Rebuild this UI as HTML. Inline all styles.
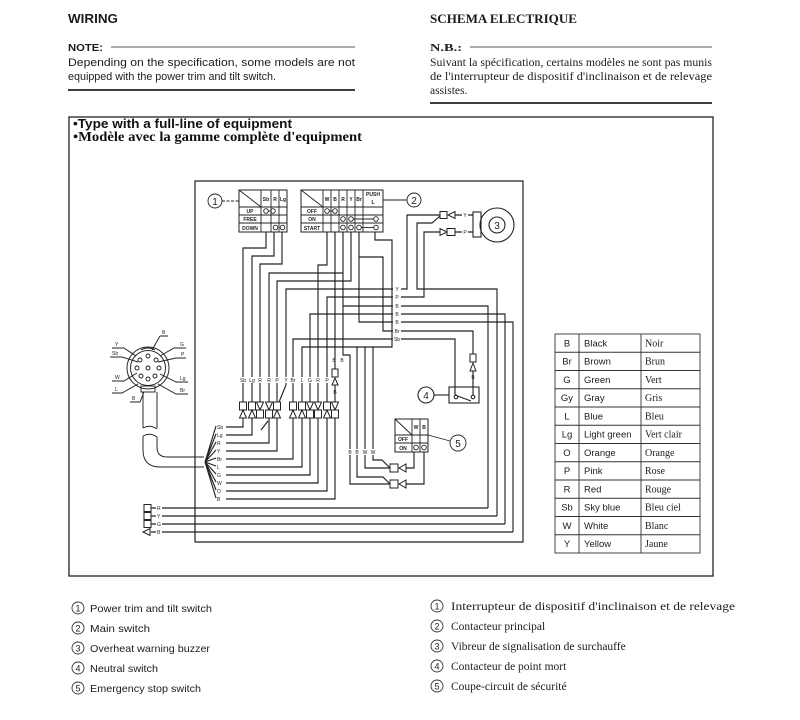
<!DOCTYPE html>
<html><head><meta charset="utf-8"><style>
html,body{margin:0;padding:0;background:#fff}
svg{display:block}
.s{font-family:"Liberation Sans",sans-serif}
.r{font-family:"Liberation Serif",serif}
</style></head><body>
<svg width="800" height="720" viewBox="0 0 800 720" xmlns="http://www.w3.org/2000/svg">
<rect width="800" height="720" fill="#fff"/>
<g fill="#1c1c1c">
<text class="s" font-family="Liberation Sans, sans-serif" x="68" y="23" font-size="12.5" font-weight="bold" textLength="50" lengthAdjust="spacingAndGlyphs">WIRING</text>
<text class="r" font-family="Liberation Serif, serif" x="430" y="23" font-size="13" font-weight="bold" textLength="147" lengthAdjust="spacingAndGlyphs">SCHEMA ELECTRIQUE</text>
<text class="s" font-family="Liberation Sans, sans-serif" x="68" y="51" font-size="10.5" font-weight="bold" textLength="35" lengthAdjust="spacingAndGlyphs">NOTE:</text>
<text class="s" font-family="Liberation Sans, sans-serif" x="68" y="66" font-size="11" textLength="287" lengthAdjust="spacingAndGlyphs">Depending on the specification, some models are not</text>
<text class="s" font-family="Liberation Sans, sans-serif" x="68" y="80" font-size="11" textLength="208" lengthAdjust="spacingAndGlyphs">equipped with the power trim and tilt switch.</text>
<text class="r" font-family="Liberation Serif, serif" x="430" y="51" font-size="10.5" font-weight="bold" textLength="32" lengthAdjust="spacingAndGlyphs">N.B.:</text>
<text class="r" font-family="Liberation Serif, serif" x="430" y="66" font-size="11.5" textLength="282" lengthAdjust="spacingAndGlyphs">Suivant la spécification, certains modèles ne sont pas munis</text>
<text class="r" font-family="Liberation Serif, serif" x="430" y="80" font-size="11.5" textLength="282" lengthAdjust="spacingAndGlyphs">de l'interrupteur de dispositif d'inclinaison et de relevage</text>
<text class="r" font-family="Liberation Serif, serif" x="430" y="94" font-size="11.5">assistes.</text>
</g>
<g stroke="#222" fill="none">
<line x1="111" y1="47" x2="355" y2="47" stroke-width="0.8"/>
<line x1="68" y1="90" x2="355" y2="90" stroke-width="1.8"/>
<line x1="470" y1="47" x2="712" y2="47" stroke-width="0.8"/>
<line x1="430" y1="103" x2="712" y2="103" stroke-width="1.8"/>
<rect x="69" y="117" width="644" height="459" stroke-width="1.3"/>
</g>
<g fill="#111">
<text class="s" font-family="Liberation Sans, sans-serif" x="73" y="128" font-size="12.5" font-weight="bold" textLength="219" lengthAdjust="spacingAndGlyphs">•Type with a full-line of equipment</text>
<text class="r" font-family="Liberation Serif, serif" x="73" y="141" font-size="13.5" font-weight="bold" textLength="289" lengthAdjust="spacingAndGlyphs">•Modèle avec la gamme complète d'equipment</text>
</g>

<!-- colour table -->
<g stroke="#333" stroke-width="0.9" fill="none">
<rect x="555" y="334" width="145" height="219"/>
<line x1="579" y1="334" x2="579" y2="553"/>
<line x1="641" y1="334" x2="641" y2="553"/>
<line x1="555" y1="352.25" x2="700" y2="352.25"/>
<line x1="555" y1="370.5" x2="700" y2="370.5"/>
<line x1="555" y1="388.75" x2="700" y2="388.75"/>
<line x1="555" y1="407" x2="700" y2="407"/>
<line x1="555" y1="425.25" x2="700" y2="425.25"/>
<line x1="555" y1="443.5" x2="700" y2="443.5"/>
<line x1="555" y1="461.75" x2="700" y2="461.75"/>
<line x1="555" y1="480" x2="700" y2="480"/>
<line x1="555" y1="498.25" x2="700" y2="498.25"/>
<line x1="555" y1="516.5" x2="700" y2="516.5"/>
<line x1="555" y1="534.75" x2="700" y2="534.75"/>
</g>
<g fill="#1c1c1c" font-size="9.5">
<g class="s" font-family="Liberation Sans, sans-serif" text-anchor="middle">
<text x="567" y="346.5">B</text><text x="567" y="364.7">Br</text><text x="567" y="383">G</text><text x="567" y="401.2">Gy</text><text x="567" y="419.5">L</text><text x="567" y="437.7">Lg</text><text x="567" y="456">O</text><text x="567" y="474.2">P</text><text x="567" y="492.5">R</text><text x="567" y="510.7">Sb</text><text x="567" y="529">W</text><text x="567" y="547.2">Y</text>
</g>
<g class="s" font-family="Liberation Sans, sans-serif">
<text x="584" y="346.5">Black</text><text x="584" y="364.7">Brown</text><text x="584" y="383">Green</text><text x="584" y="401.2">Gray</text><text x="584" y="419.5">Blue</text><text x="584" y="437.7">Light green</text><text x="584" y="456">Orange</text><text x="584" y="474.2">Pink</text><text x="584" y="492.5">Red</text><text x="584" y="510.7">Sky blue</text><text x="584" y="529">White</text><text x="584" y="547.2">Yellow</text>
</g>
<g class="r" font-family="Liberation Serif, serif" font-size="10">
<text x="645" y="346.5">Noir</text><text x="645" y="364.7">Brun</text><text x="645" y="383">Vert</text><text x="645" y="401.2">Gris</text><text x="645" y="419.5">Bleu</text><text x="645" y="437.7">Vert clair</text><text x="645" y="456">Orange</text><text x="645" y="474.2">Rose</text><text x="645" y="492.5">Rouge</text><text x="645" y="510.7">Bleu ciel</text><text x="645" y="529">Blanc</text><text x="645" y="547.2">Jaune</text>
</g>
</g>

<!-- wiring -->
<g fill="none" stroke="#222" stroke-width="1.15">
<path d="M195 181 H523 V542 H195 Z" stroke-width="1.2"/>
<path d="M266 232 V248 H243 V402"/>
<path d="M274 232 V256 H252 V402"/>
<path d="M282 232 V264 H260 V402"/>
<path d="M343 232 V355 H350 V484 H390"/>
<path d="M343 273 H269 V402"/>
<path d="M343 306 H488 V508"/>
<path d="M351 232 V281 H277 V402"/>
<path d="M327 232 V265 H318 V402"/>
<path d="M335 232 V369"/>
<path d="M335 385 V402"/>
<path d="M359 232 V322 H513 V532"/>
<path d="M359 257 H383 V331 H473 V354"/>
<path d="M473 371 V387"/>
<path d="M375 232 V240 H392 V347 H302 V402"/>
<path d="M286 385 V289 H407 V215 H440"/>
<path d="M286 385 L279 402"/>
<path d="M497 516 V289 H417 V223 H432 L440 216"/>
<path d="M327 402 V297 H424 V232 H440"/>
<path d="M310 402 V314 H505 V524"/>
<path d="M293 402 V339 H455 V396"/>
<path d="M357 347 V477 H383 L390 484"/>
<path d="M365 347 V468 H390"/>
<path d="M373 347 V460 H382 L390 468"/>
<path d="M406 468 H414 V452"/>
<path d="M406 484 H424 V452"/>
<path d="M455 215 H473"/>
<path d="M455 232 H473"/>
<path d="M226 427 H243 V418"/>
<path d="M226 435 H252 V418"/>
<path d="M226 443 H269 V418"/>
<path d="M226 451 H277 V418"/>
<path d="M226 459 H293 V418"/>
<path d="M226 467 H302 V418"/>
<path d="M226 475 H310 V418"/>
<path d="M226 483 H318 V418"/>
<path d="M226 491 H327 V418"/>
<path d="M226 499 H335 V418"/>
<path d="M261 430 L268 421"/>
<path d="M205 462 L216 426 M205 462 L216 434 M205 462 L216 442 M205 462 L216 450 M205 462 L216 458 M205 462 L216 466 M205 462 L216 474 M205 462 L216 482 M205 462 L216 490 M205 462 L216 498"/>
<path d="M151 508 H156 M162 508 H488"/>
<path d="M151 516 H156 M162 516 H497"/>
<path d="M151 524 H156 M162 524 H505"/>
<path d="M151 532 H156 M162 532 H513"/>
</g>

<g fill="#fff" stroke="#222" stroke-width="1">
<rect x="144" y="504.5" width="7" height="7"/>
<rect x="144" y="512.5" width="7" height="7"/>
<rect x="144" y="520.5" width="7" height="7"/>
<polygon points="143,532 150,528.5 150,535.5"/>
</g>

<g fill="#fff" stroke="#222" stroke-width="1">
<rect x="239.5" y="402" width="7" height="8"/><polygon points="239.5,418 246.5,418 243,410"/>
<rect x="248.5" y="402" width="7" height="8"/><polygon points="248.5,418 255.5,418 252,410"/>
<polygon points="256.5,402 263.5,402 260,410"/><rect x="256.5" y="410" width="7" height="8"/>
<polygon points="265.5,402 272.5,402 269,410"/><rect x="265.5" y="410" width="7" height="8"/>
<rect x="273.5" y="402" width="7" height="8"/><polygon points="273.5,418 280.5,418 277,410"/>
<rect x="289.5" y="402" width="7" height="8"/><polygon points="289.5,418 296.5,418 293,410"/>
<rect x="298.5" y="402" width="7" height="8"/><polygon points="298.5,418 305.5,418 302,410"/>
<polygon points="306.5,402 313.5,402 310,410"/><rect x="306.5" y="410" width="7" height="8"/>
<polygon points="314.5,402 321.5,402 318,410"/><rect x="314.5" y="410" width="7" height="8"/>
<rect x="323.5" y="402" width="7" height="8"/><polygon points="323.5,418 330.5,418 327,410"/>
<polygon points="331.5,402 338.5,402 335,410"/><rect x="331.5" y="410" width="7" height="8"/>
<rect x="332" y="369" width="6" height="8"/><polygon points="332,385 338,385 335,378"/>
<rect x="470" y="354" width="6" height="8"/><polygon points="470,371 476,371 473,363"/>
<rect x="390" y="464" width="8" height="8"/><polygon points="399,468 406,464 406,472"/>
<rect x="390" y="480" width="8" height="8"/><polygon points="399,484 406,480 406,488"/>
<rect x="440" y="211.5" width="7" height="7"/><polygon points="448,215 455,211.5 455,218.5"/>
<polygon points="440,228.5 440,235.5 447,232"/><rect x="447" y="228.5" width="8" height="7"/>
</g>

<g class="s" font-family="Liberation Sans, sans-serif" font-size="5" fill="#222">
<g fill="#fff"><rect x="393" y="286" width="8" height="6"/><rect x="393" y="294" width="8" height="6"/><rect x="393" y="303" width="8" height="6"/><rect x="393" y="311" width="8" height="6"/><rect x="393" y="319" width="8" height="6"/><rect x="393" y="328" width="8" height="6"/><rect x="393" y="336" width="8" height="6"/>
<rect x="239" y="377" width="8" height="6"/><rect x="248" y="377" width="8" height="6"/><rect x="256" y="377" width="8" height="6"/><rect x="265" y="377" width="8" height="6"/><rect x="273" y="377" width="8" height="6"/><rect x="282" y="377" width="8" height="6"/><rect x="289" y="377" width="8" height="6"/><rect x="298" y="377" width="8" height="6"/><rect x="306" y="377" width="8" height="6"/><rect x="314" y="377" width="8" height="6"/><rect x="323" y="377" width="8" height="6"/>
<rect x="346" y="449" width="8" height="6"/><rect x="353" y="449" width="8" height="6"/><rect x="361" y="449" width="8" height="6"/><rect x="369" y="449" width="8" height="6"/>
<rect x="462" y="212" width="6" height="6"/><rect x="462" y="229" width="6" height="6"/></g>
<g text-anchor="middle">
<text x="397" y="291">Y</text><text x="397" y="299">P</text><text x="397" y="308">B</text><text x="397" y="316">B</text><text x="397" y="324">B</text><text x="397" y="333">Br</text><text x="397" y="341">Sb</text>
<text x="243" y="382">Sb</text><text x="252" y="382">Lg</text><text x="260" y="382">R</text><text x="269" y="382">R</text><text x="277" y="382">P</text><text x="286" y="382">Y</text><text x="293" y="382">Br</text><text x="302" y="382">L</text><text x="310" y="382">G</text><text x="318" y="382">R</text><text x="327" y="382">P</text>
<text x="350" y="454">B</text><text x="357" y="454">B</text><text x="365" y="454">W</text><text x="373" y="454">W</text>
<text x="465" y="217">Y</text><text x="465" y="234">P</text>
<text x="334" y="362">B</text><text x="342" y="362">B</text>
<text x="335" y="394">B</text><text x="473" y="379">B</text>
</g>
<text x="217" y="429">Sb</text><text x="217" y="437">Lg</text><text x="217" y="445">R</text><text x="217" y="453">Y</text><text x="217" y="461">Br</text><text x="217" y="469">L</text><text x="217" y="477">G</text><text x="217" y="485">W</text><text x="217" y="493">O</text><text x="217" y="501">B</text>
<text x="157" y="510">R</text><text x="157" y="518">Y</text><text x="157" y="526">G</text><text x="157" y="534">B</text>
</g>

<!-- switch 1 -->
<g fill="#fff" stroke="#222" stroke-width="1"><rect x="239" y="190" width="48" height="42"/></g>
<g fill="none" stroke="#222" stroke-width="0.9">
<line x1="239" y1="207" x2="287" y2="207"/><line x1="239" y1="215" x2="287" y2="215"/><line x1="239" y1="223" x2="287" y2="223"/>
<line x1="261" y1="190" x2="261" y2="232"/><line x1="271" y1="190" x2="271" y2="232"/><line x1="279" y1="190" x2="279" y2="232"/>
<line x1="239" y1="190" x2="261" y2="207"/>
<circle cx="266" cy="211" r="2.3"/><circle cx="273" cy="211" r="2.3"/><line x1="268.3" y1="211" x2="270.7" y2="211"/>
<circle cx="275.5" cy="227.5" r="2.3"/><circle cx="282.5" cy="227.5" r="2.3"/>
<circle cx="215" cy="201" r="7"/><line x1="222" y1="201" x2="239" y2="201" stroke-dasharray="3,1.5"/>
</g>
<g class="s" font-family="Liberation Sans, sans-serif" font-size="5" font-weight="bold" fill="#222" text-anchor="middle">
<text x="266" y="201">Sb</text><text x="275" y="201">R</text><text x="283" y="201">Lg</text>
<text x="250" y="213">UP</text><text x="250" y="221">FREE</text><text x="250" y="230">DOWN</text>
</g>
<text class="s" font-family="Liberation Sans, sans-serif" x="215" y="205" font-size="10" text-anchor="middle" fill="#222">1</text>

<!-- switch 2 -->
<g fill="#fff" stroke="#222" stroke-width="1"><rect x="301" y="190" width="82" height="42"/></g>
<g fill="none" stroke="#222" stroke-width="0.9">
<line x1="301" y1="207" x2="383" y2="207"/><line x1="301" y1="215" x2="383" y2="215"/><line x1="301" y1="223" x2="383" y2="223"/>
<line x1="323" y1="190" x2="323" y2="232"/><line x1="331" y1="190" x2="331" y2="232"/><line x1="339" y1="190" x2="339" y2="232"/><line x1="347" y1="190" x2="347" y2="232"/><line x1="355" y1="190" x2="355" y2="232"/><line x1="363" y1="190" x2="363" y2="232"/>
<line x1="301" y1="190" x2="323" y2="207"/>
<circle cx="327" cy="211" r="2.3"/><circle cx="335" cy="211" r="2.3"/><line x1="329.3" y1="211" x2="332.7" y2="211"/>
<circle cx="343" cy="219" r="2.3"/><circle cx="351" cy="219" r="2.3"/><line x1="353.3" y1="219" x2="373.7" y2="219"/><circle cx="376" cy="219" r="2.3"/>
<circle cx="343" cy="227.5" r="2.3"/><circle cx="351" cy="227.5" r="2.3"/><circle cx="359" cy="227.5" r="2.3"/><line x1="361.3" y1="227.5" x2="373.7" y2="227.5"/><circle cx="376" cy="227.5" r="2.3"/>
<circle cx="414" cy="200" r="7"/><line x1="383" y1="200" x2="407" y2="200"/>
</g>
<g class="s" font-family="Liberation Sans, sans-serif" font-size="5" font-weight="bold" fill="#222" text-anchor="middle">
<text x="327" y="201">W</text><text x="335" y="201">B</text><text x="343" y="201">R</text><text x="351" y="201">Y</text><text x="359" y="201">Br</text>
<text x="373" y="196">PUSH</text><text x="373" y="204">L</text>
<text x="312" y="213">OFF</text><text x="312" y="221">ON</text><text x="312" y="230">START</text>
</g>
<text class="s" font-family="Liberation Sans, sans-serif" x="414" y="204" font-size="10" text-anchor="middle" fill="#222">2</text>

<!-- buzzer -->
<g fill="none" stroke="#222" stroke-width="1.1">
<rect x="473" y="212" width="8" height="25" fill="#fff"/>
<circle cx="497" cy="225" r="17"/>
<circle cx="497" cy="225" r="8"/>
</g>
<text class="s" font-family="Liberation Sans, sans-serif" x="497" y="229" font-size="10" text-anchor="middle" fill="#222">3</text>

<!-- neutral switch 4 -->
<g fill="none" stroke="#222" stroke-width="1.1">
<rect x="449" y="387" width="30" height="16"/>
<circle cx="456" cy="397" r="1.8"/><circle cx="473" cy="397" r="1.8"/>
<line x1="457.5" y1="396" x2="471" y2="401"/>
<line x1="473" y1="387" x2="473" y2="395"/>
<circle cx="426" cy="395" r="8"/><line x1="434" y1="395" x2="449" y2="395"/>
</g>
<text class="s" font-family="Liberation Sans, sans-serif" x="426" y="399" font-size="10" text-anchor="middle" fill="#222">4</text>

<!-- emergency switch 5 -->
<g fill="#fff" stroke="#222" stroke-width="1"><rect x="395" y="419" width="33" height="33"/></g>
<g fill="none" stroke="#222" stroke-width="0.9">
<line x1="395" y1="435" x2="428" y2="435"/><line x1="395" y1="443" x2="428" y2="443"/>
<line x1="412" y1="419" x2="412" y2="452"/><line x1="420" y1="419" x2="420" y2="452"/>
<line x1="395" y1="419" x2="412" y2="435"/>
<circle cx="416" cy="447.5" r="2.3"/><circle cx="424" cy="447.5" r="2.3"/>
<line x1="428" y1="435" x2="450" y2="441"/>
<circle cx="458" cy="443" r="8"/>
</g>
<g class="s" font-family="Liberation Sans, sans-serif" font-size="5" font-weight="bold" fill="#222" text-anchor="middle">
<text x="416" y="429">W</text><text x="424" y="429">B</text><text x="403" y="441">OFF</text><text x="403" y="450">ON</text>
</g>
<text class="s" font-family="Liberation Sans, sans-serif" x="458" y="447" font-size="10" text-anchor="middle" fill="#222">5</text>

<!-- engine connector -->
<g fill="none" stroke="#222" stroke-width="0.95">
<circle cx="148" cy="368" r="21"/>
<circle cx="148" cy="368" r="17.5"/>
<path d="M141 350 Q148 346 155 350"/>
<circle cx="148" cy="356" r="2"/><circle cx="140" cy="360" r="2"/><circle cx="156" cy="360" r="2"/><circle cx="137" cy="368" r="2"/><circle cx="159" cy="368" r="2"/><circle cx="141" cy="376" r="2"/><circle cx="155" cy="376" r="2"/><circle cx="148" cy="368" r="2"/><circle cx="148" cy="379" r="2"/>
<rect x="141" y="386" width="14" height="6"/>
<path d="M143 392 V428 M157 392 V428"/>
<path d="M143 428 Q150 424 157 429"/>
<path d="M143 436 Q150 432 157 437"/>
<path d="M143 436 V450 Q143 467 160 467 H204"/>
<path d="M157 437 V447 Q157 457 167 457 H204"/>
<path d="M112 348 H124 L136 356"/>
<path d="M110 357 H122 L138 362"/>
<path d="M112 381 H124 L137 373"/>
<path d="M112 393 H122 L138 384"/>
<path d="M186 348 H174 L160 356"/>
<path d="M186 358 H176 L158 362"/>
<path d="M188 382 H176 L160 374"/>
<path d="M188 394 H176 L158 384"/>
<path d="M160 336 H168 M160 336 L152 350"/>
<path d="M130 402 H140 L144 392"/>
</g>
<g class="s" font-family="Liberation Sans, sans-serif" font-size="5" fill="#222">
<text x="115" y="346">Y</text><text x="112" y="355">Sb</text><text x="115" y="379">W</text><text x="115" y="391">L</text>
<text x="180" y="346">G</text><text x="181" y="356">P</text><text x="180" y="380">Lg</text><text x="180" y="392">Br</text>
<text x="162" y="334">B</text><text x="132" y="400">B</text>
</g>

<!-- legend -->
<g fill="none" stroke="#333" stroke-width="0.9">
<circle cx="78" cy="608" r="6"/><circle cx="78" cy="628" r="6"/><circle cx="78" cy="648" r="6"/><circle cx="78" cy="668" r="6"/><circle cx="78" cy="688" r="6"/>
<circle cx="437" cy="606" r="6"/><circle cx="437" cy="626" r="6"/><circle cx="437" cy="646" r="6"/><circle cx="437" cy="666" r="6"/><circle cx="437" cy="686" r="6"/>
</g>
<g class="s" font-family="Liberation Sans, sans-serif" font-size="9" fill="#222" text-anchor="middle">
<text x="78" y="611.5">1</text><text x="78" y="631.5">2</text><text x="78" y="651.5">3</text><text x="78" y="671.5">4</text><text x="78" y="691.5">5</text>
<text x="437" y="609.5">1</text><text x="437" y="629.5">2</text><text x="437" y="649.5">3</text><text x="437" y="669.5">4</text><text x="437" y="689.5">5</text>
</g>
<g class="s" font-family="Liberation Sans, sans-serif" font-size="10.5" fill="#1c1c1c">
<text x="90" y="612" textLength="122" lengthAdjust="spacingAndGlyphs">Power trim and tilt switch</text>
<text x="90" y="632" textLength="60" lengthAdjust="spacingAndGlyphs">Main switch</text>
<text x="90" y="652" textLength="120" lengthAdjust="spacingAndGlyphs">Overheat warning buzzer</text>
<text x="90" y="672" textLength="68" lengthAdjust="spacingAndGlyphs">Neutral switch</text>
<text x="90" y="692" textLength="111" lengthAdjust="spacingAndGlyphs">Emergency stop switch</text>
</g>
<g class="r" font-family="Liberation Serif, serif" font-size="11.5" fill="#1c1c1c">
<text x="451" y="610" textLength="284" lengthAdjust="spacingAndGlyphs">Interrupteur de dispositif d'inclinaison et de relevage</text>
<text x="451" y="630">Contacteur principal</text>
<text x="451" y="650">Vibreur de signalisation de surchauffe</text>
<text x="451" y="670">Contacteur de point mort</text>
<text x="451" y="690">Coupe-circuit de sécurité</text>
</g>
</svg>
</body></html>
